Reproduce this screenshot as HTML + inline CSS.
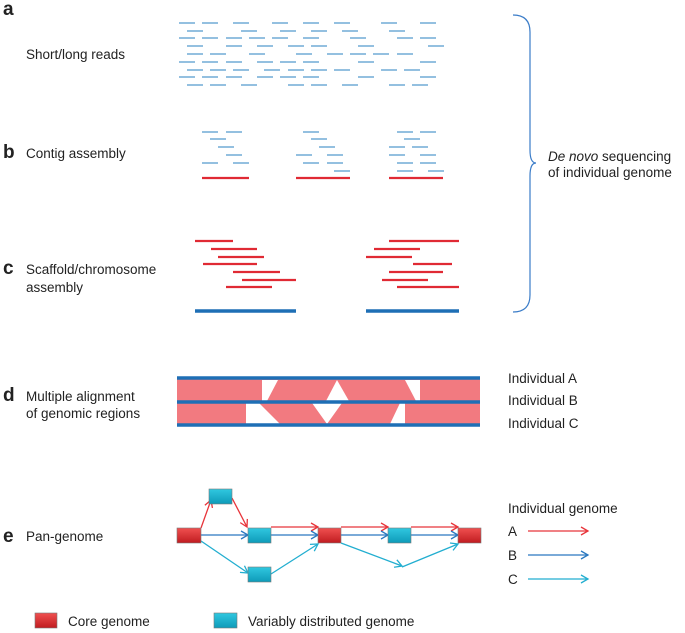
<!DOCTYPE html>
<html><head><meta charset="utf-8"><style>
body{margin:0;background:#fff}
svg{display:block}
text{font-family:"Liberation Sans",sans-serif;fill:#222}
.l{font-weight:bold;font-size:19px}
.t{font-size:13.5px}
</style></head><body>
<svg width="685" height="633" viewBox="0 0 685 633" xmlns="http://www.w3.org/2000/svg">
<defs>
<marker id="ar" markerWidth="10" markerHeight="10" refX="8" refY="5" orient="auto" markerUnits="userSpaceOnUse"><path d="M1,1 L8,5 L1,9" fill="none" stroke="#e8343a" stroke-width="1.3"/></marker>
<marker id="ab" markerWidth="10" markerHeight="10" refX="8" refY="5" orient="auto" markerUnits="userSpaceOnUse"><path d="M1,1 L8,5 L1,9" fill="none" stroke="#2a78c0" stroke-width="1.3"/></marker>
<marker id="ac" markerWidth="10" markerHeight="10" refX="8" refY="5" orient="auto" markerUnits="userSpaceOnUse"><path d="M1,1 L8,5 L1,9" fill="none" stroke="#22aed0" stroke-width="1.3"/></marker>
<linearGradient id="gr" x1="0" y1="0" x2="0" y2="1"><stop offset="0" stop-color="#f05050"/><stop offset="1" stop-color="#c01c20"/></linearGradient>
<linearGradient id="gc" x1="0" y1="0" x2="0" y2="1"><stop offset="0" stop-color="#30c8e0"/><stop offset="1" stop-color="#0e9ab8"/></linearGradient>
</defs>
<text class="l" x="3" y="15">a</text>
<text class="l" x="3" y="158">b</text>
<text class="l" x="3" y="274">c</text>
<text class="l" x="3" y="401">d</text>
<text class="l" x="3" y="542">e</text>
<text class="t" x="26" y="59">Short/long reads</text>
<text class="t" x="26" y="158">Contig assembly</text>
<text class="t" x="26" y="274">Scaffold/chromosome</text>
<text class="t" x="26" y="292">assembly</text>
<text class="t" x="26" y="401">Multiple alignment</text>
<text class="t" x="26" y="418">of genomic regions</text>
<text class="t" x="26" y="541">Pan-genome</text>
<g id="reads" stroke="#5a9fd0" stroke-width="1.3"></g>
<g id="red" stroke="#e02a34" stroke-width="2.2"></g>
<g stroke="#1e6fb5" stroke-width="3.5">
<line x1="195" y1="311" x2="296" y2="311"/><line x1="366" y1="311" x2="459" y2="311"/>
</g>
<path d="M513,15 Q530,15 530,32 L530,150 Q530,163 536,163 Q530,163 530,176 L530,295 Q530,312 513,312" fill="none" stroke="#3a7cc8" stroke-width="1.2"/>
<text class="t" x="548" y="161"><tspan font-style="italic">De novo</tspan> sequencing</text>
<text class="t" x="548" y="177">of individual genome</text>
<!-- alignment -->
<rect x="177" y="378" width="303" height="47" fill="#f27a80"/>
<g fill="#fff">
<polygon points="262,380 278,380 267,401 262,401"/>
<polygon points="337,380 326,401 349,401"/>
<polygon points="405,380 420,380 420,401 416,401"/>
<polygon points="246,403 259,403 280,424 246,424"/>
<polygon points="312,403 342,403 327,424"/>
<polygon points="400,403 405,403 405,424 390,424"/>
</g>
<g stroke="#1e6fb5" stroke-width="3.5">
<line x1="177" y1="378" x2="480" y2="378"/><line x1="177" y1="402" x2="480" y2="402"/><line x1="177" y1="425" x2="480" y2="425"/>
</g>
<text class="t" x="508" y="383">Individual A</text>
<text class="t" x="508" y="405">Individual B</text>
<text class="t" x="508" y="428">Individual C</text>
<!-- pan-genome edges -->
<g fill="none" stroke-width="1.3">
<line x1="201" y1="528" x2="211" y2="500" stroke="#e8343a" marker-end="url(#ar)"/>
<line x1="232" y1="498" x2="247" y2="527" stroke="#e8343a" marker-end="url(#ar)"/>
<line x1="271" y1="527" x2="318" y2="527" stroke="#e8343a" marker-end="url(#ar)"/>
<line x1="341" y1="527" x2="388" y2="527" stroke="#e8343a" marker-end="url(#ar)"/>
<line x1="411" y1="527" x2="458" y2="527" stroke="#e8343a" marker-end="url(#ar)"/>
<line x1="201" y1="535" x2="248" y2="535" stroke="#2a78c0" marker-end="url(#ab)"/>
<line x1="271" y1="535" x2="318" y2="535" stroke="#2a78c0" marker-end="url(#ab)"/>
<line x1="341" y1="535" x2="388" y2="535" stroke="#2a78c0" marker-end="url(#ab)"/>
<line x1="411" y1="535" x2="458" y2="535" stroke="#2a78c0" marker-end="url(#ab)"/>
<line x1="201" y1="541" x2="248" y2="573" stroke="#22aed0" marker-end="url(#ac)"/>
<line x1="271" y1="574" x2="318" y2="544" stroke="#22aed0" marker-end="url(#ac)"/>
<line x1="341" y1="543" x2="402" y2="566" stroke="#22aed0" marker-end="url(#ac)"/>
<line x1="402" y1="567" x2="458" y2="544" stroke="#22aed0" marker-end="url(#ac)"/>
</g>
<g stroke="#7a7a7a" stroke-width="0.6">
<rect x="177" y="528" width="24" height="15" fill="url(#gr)"/>
<rect x="318" y="528" width="23" height="15" fill="url(#gr)"/>
<rect x="458" y="528" width="23" height="15" fill="url(#gr)"/>
<rect x="209" y="489" width="23" height="15" fill="url(#gc)"/>
<rect x="248" y="528" width="23" height="15" fill="url(#gc)"/>
<rect x="388" y="528" width="23" height="15" fill="url(#gc)"/>
<rect x="248" y="567" width="23" height="15" fill="url(#gc)"/>
<rect x="35" y="613" width="22" height="15" fill="url(#gr)"/>
<rect x="214" y="613" width="23" height="15" fill="url(#gc)"/>
</g>
<text class="t" x="508" y="513">Individual genome</text>
<text class="t" x="508" y="536">A</text>
<text class="t" x="508" y="560">B</text>
<text class="t" x="508" y="584">C</text>
<g fill="none" stroke-width="1.3">
<line x1="528" y1="531" x2="588" y2="531" stroke="#e8343a" marker-end="url(#ar)"/>
<line x1="528" y1="555" x2="588" y2="555" stroke="#2a78c0" marker-end="url(#ab)"/>
<line x1="528" y1="579" x2="588" y2="579" stroke="#22aed0" marker-end="url(#ac)"/>
</g>
<text class="t" x="68" y="626">Core genome</text>
<text class="t" x="248" y="626">Variably distributed genome</text>
</svg>
<script>
var ns="http://www.w3.org/2000/svg";
function L(g,x1,y,x2){var l=document.createElementNS(ns,"line");l.setAttribute("x1",x1);l.setAttribute("x2",x2);l.setAttribute("y1",y);l.setAttribute("y2",y);g.appendChild(l);}
var g=document.getElementById("reads"),r=document.getElementById("red");
var rows=[[23,[179,202,233,272,303,334,381,420]],[31,[187,241,280,311,342,389]],[38,[179,202,226,249,272,303,350,397,420]],[46,[187,226,257,288,311,358,428]],[54,[187,210,249,296,327,350,373,397]],[62,[179,202,226,257,280,303,358,420]],[70,[187,210,233,264,288,311,334,381,404]],[77,[179,202,226,257,280,303,358,420]],[85,[187,210,241,288,311,342,389,412]]];
rows.forEach(function(a){a[1].forEach(function(x){L(g,x,a[0],x+16)})});
var cy=[132,139,147,155,163,171];
var c=[[[202,226,303,397,420]],[[210,311,404]],[[218,319,389,412]],[[226,296,327,389,420]],[[202,233,303,327,397,420]],[[334,397,428]]];
c.forEach(function(a,i){a[0].forEach(function(x){L(g,x,cy[i],x+16)})});
L(r,202,178,249);L(r,296,178,350);L(r,389,178,443);
var sy=[241,249,257,264,272,280,287];
var sl=[[195,233],[211,257],[218,264],[203,257],[233,280],[242,296],[226,272]];
var sr=[[389,459],[374,420],[366,412],[413,452],[389,443],[382,428],[397,459]];
sy.forEach(function(y,i){L(r,sl[i][0],y,sl[i][1]);L(r,sr[i][0],y,sr[i][1]);});
</script>
</body></html>
